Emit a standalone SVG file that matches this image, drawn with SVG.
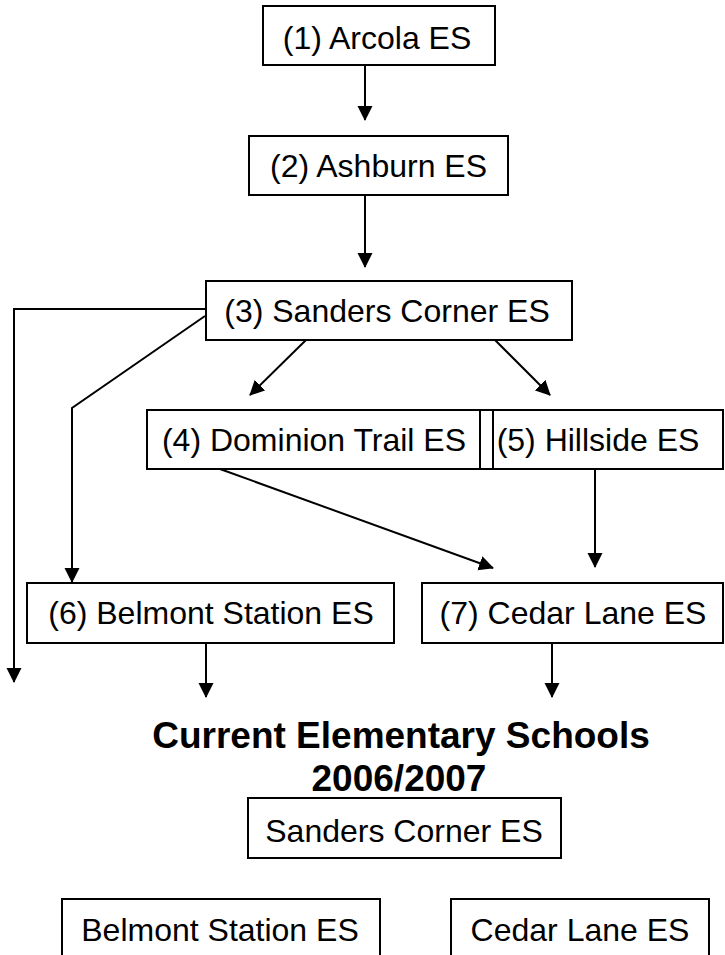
<svg xmlns="http://www.w3.org/2000/svg" width="725" height="955" viewBox="0 0 725 955">
<defs>
<style>
.box{fill:#fff;stroke:#000;stroke-width:2}
.t{font-family:"Liberation Sans",Arial,sans-serif;font-size:32px;fill:#000;text-anchor:middle}
.h{font-family:"Liberation Sans",Arial,sans-serif;font-size:37px;font-weight:bold;fill:#000;text-anchor:middle}
.c{fill:none;stroke:#000;stroke-width:2}
</style>
<marker id="ah" markerUnits="userSpaceOnUse" markerWidth="16" markerHeight="16" refX="14" refY="7.5" orient="auto" viewBox="0 0 16 15">
<path d="M0,0 L15,7.5 L0,15 z" fill="#000"/>
</marker>
</defs>
<rect width="725" height="955" fill="#fff"/>
<g id="connectors">
<path class="c" d="M365,65 V120" marker-end="url(#ah)"/>
<path class="c" d="M365,195 V267" marker-end="url(#ah)"/>
<path class="c" d="M206,309 H14 V682" marker-end="url(#ah)"/>
<path class="c" d="M205,316 L72,408 V582" marker-end="url(#ah)"/>
<path class="c" d="M306,340 L250,395" marker-end="url(#ah)"/>
<path class="c" d="M495,340 L550,395" marker-end="url(#ah)"/>
<path class="c" d="M220,469 L493,568" marker-end="url(#ah)"/>
<path class="c" d="M595,469 V567" marker-end="url(#ah)"/>
<path class="c" d="M206,643 V697" marker-end="url(#ah)"/>
<path class="c" d="M552,643 V697" marker-end="url(#ah)"/>
</g>
<g id="n1"><rect class="box" x="263" y="6" width="232" height="59"/><text class="t" x="377" y="49">(1) Arcola ES</text></g>
<g id="n2"><rect class="box" x="249" y="136" width="259" height="59"/><text class="t" x="378.5" y="177">(2) Ashburn ES</text></g>
<g id="n3"><rect class="box" x="206" y="281" width="366" height="59"/><text class="t" x="387" y="322">(3) Sanders Corner ES</text></g>
<g id="n4"><rect class="box" x="147" y="410" width="333" height="59"/><text class="t" x="314" y="451">(4) Dominion Trail ES</text></g>
<g id="n4b"><rect class="box" x="480" y="410" width="13" height="59"/></g>
<g id="n5"><rect class="box" x="493" y="410" width="230" height="59"/><text class="t" x="598" y="451">(5) Hillside ES</text></g>
<g id="n6"><rect class="box" x="27" y="583" width="367" height="60"/><text class="t" x="211" y="624">(6) Belmont Station ES</text></g>
<g id="n7"><rect class="box" x="422" y="583" width="301" height="60"/><text class="t" x="573" y="624">(7) Cedar Lane ES</text></g>
<g id="title"><text class="h" x="401" y="748">Current Elementary Schools</text><text class="h" x="399" y="791">2006/2007</text></g>
<g id="b1"><rect class="box" x="248" y="798" width="313" height="60"/><text class="t" x="404" y="842">Sanders Corner ES</text></g>
<g id="b2"><rect class="box" x="62" y="899" width="318" height="70"/><text class="t" x="220" y="941">Belmont Station ES</text></g>
<g id="b3"><rect class="box" x="451" y="899" width="258" height="70"/><text class="t" x="580" y="941">Cedar Lane ES</text></g>
</svg>
